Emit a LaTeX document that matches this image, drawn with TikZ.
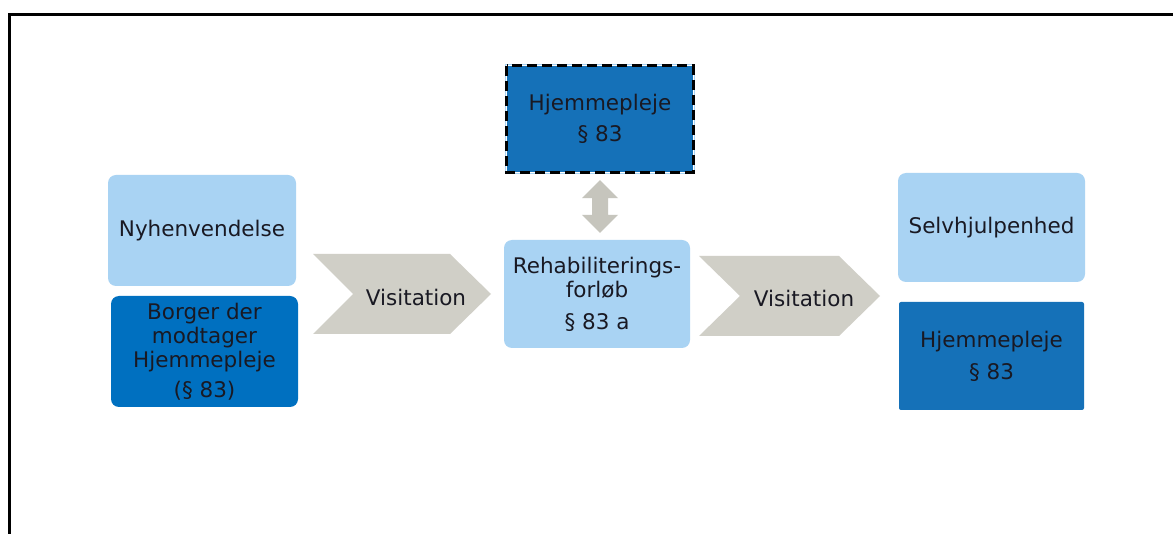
\documentclass[tikz,border=0pt]{standalone}
\usepackage{fontspec}
\setmainfont{DejaVu Sans}
\usetikzlibrary{calc}
\definecolor{boxlight}{RGB}{169,211,243}
\definecolor{boxdark}{RGB}{0,112,192}
\definecolor{boxmid}{RGB}{21,113,184}
\definecolor{chev}{RGB}{208,207,199}
\definecolor{ink}{RGB}{25,25,35}
\newcommand{\diagfont}{\fontsize{21.5}{24}\selectfont}
\begin{document}
\begin{tikzpicture}[x=1pt,y=-1pt,
  card/.style={inner sep=0pt, align=center, text=ink, font=\diagfont},
  lightcard/.style={card, fill=boxlight, rounded corners=8pt},
  darkcard/.style={card, fill=boxdark, rounded corners=8pt},
  midcard/.style={card, fill=boxmid},
  chevron/.style={fill=chev, draw=none},
  label/.style={inner sep=0pt, text=ink, font=\diagfont}]
\useasboundingbox (0,0) rectangle (1173,534);
\fill[white] (0,0) rectangle (1173,534);
% outer frame (open towards right and bottom)
\draw[line width=3.3pt] (1173,14.5) -- (9.5,14.5) -- (9.5,534);

% left column
\node[lightcard, minimum width=188pt, minimum height=111pt] (nyh) at (202,230.5) {Nyhenvendelse};
\node[darkcard, minimum width=187pt, minimum height=111pt] (borger) at (204.5,351.5)
  {Borger der\\modtager\\Hjemmepleje\\[6pt](§ 83)};

% centre column
\node[lightcard, minimum width=186pt, minimum height=108pt] (rehab) at (597,294)
  {Rehabiliterings-\\forløb\\[8pt]§ 83 a};
\node[midcard, minimum width=186pt, minimum height=106pt] (hjtop) at (600,119)
  {Hjemmepleje\\[7pt]§ 83};
% light halo and dashed outline of the optional card
\draw[boxlight, line width=1.5pt] ($(hjtop.north west)+(-1.5,-1.5)$) rectangle ($(hjtop.south east)+(1.5,1.5)$);
\draw[line width=3.2pt, dash pattern=on 10pt off 5pt] (hjtop.north west) rectangle (hjtop.south east);

% right column
\node[lightcard, minimum width=187pt, minimum height=109pt] (selv) at (991.5,227.5) {Selvhjulpenhed};
\node[midcard, rounded corners=2pt, minimum width=185pt, minimum height=108pt] (hjright) at (991.5,356)
  {Hjemmepleje\\[8pt]§ 83};

% double arrow between top card and rehabilitation card
\coordinate (da) at ($(hjtop.south)+(0,8)$);
\coordinate (db) at ($(rehab.north)+(3,-7)$);
\fill[chev!95!black] (da) -- ($(da)+(18,18)$) -- ($(da)+(8,18)$) -- ($(db)+(8,-18)$) -- ($(db)+(18,-18)$)
  -- (db) -- ($(db)+(-18,-18)$) -- ($(db)+(-8,-18)$) -- ($(da)+(-8,18)$) -- ($(da)+(-18,18)$) -- cycle;

% chevrons
\fill[chevron] (313,254) -- (450,254) -- (491,294) -- (450,334) -- (313,334) -- (353,294) -- cycle;
\node[label] (vis1) at (416,297) {Visitation};
\fill[chevron] (699,256) -- (839,256) -- (880,296) -- (839,336) -- (699,336) -- (740,296) -- cycle;
\node[label] (vis2) at (804,298) {Visitation};
\end{tikzpicture}
\end{document}
